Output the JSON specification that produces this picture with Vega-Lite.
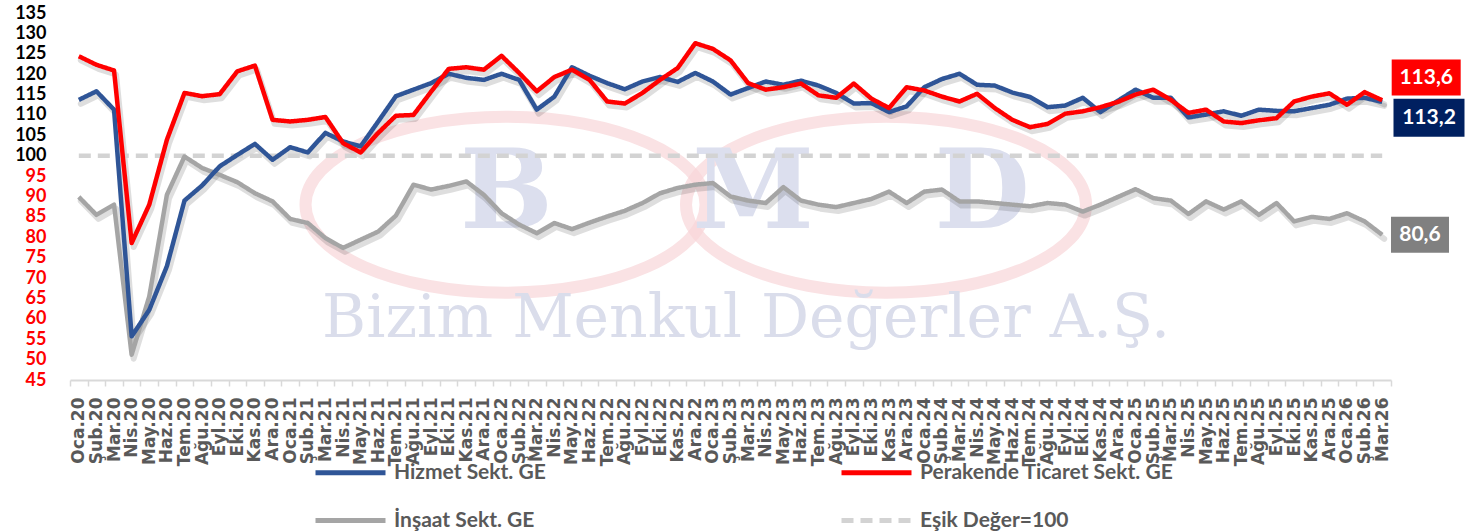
{
  "$schema": "https://vega.github.io/schema/vega-lite/v6.json",
  "width": 1321,
  "height": 367,
  "autosize": {"type": "pad"},
  "padding": {"left": 14, "top": 4, "right": 0, "bottom": 0},
  "background": "#FFFFFF",
  "config": {
    "view": {"stroke": null},
    "axisY": {"labelOverlap": false, "tickCount": 19},
    "locale": {"number": {"decimal": ",", "thousands": ".", "grouping": [3], "currency": ["", " TL"]}}
  },
  "data": {
    "values": [
      {"ay": "Oca.20", "h": 113.7, "p": 124.4, "i": 89.9, "e": 100},
      {"ay": "Şub.20", "h": 115.8, "p": 122.3, "i": 85.5, "e": 100},
      {"ay": "Mar.20", "h": 111.3, "p": 120.9, "i": 88.0, "e": 100},
      {"ay": "Nis.20", "h": 55.7, "p": 78.6, "i": 51.2, "e": 100},
      {"ay": "May.20", "h": 62.2, "p": 88.0, "i": 65.5, "e": 100},
      {"ay": "Haz.20", "h": 72.9, "p": 103.9, "i": 90.4, "e": 100},
      {"ay": "Tem.20", "h": 89.0, "p": 115.4, "i": 99.8, "e": 100},
      {"ay": "Ağu.20", "h": 92.7, "p": 114.6, "i": 97.0, "e": 100},
      {"ay": "Eyl.20", "h": 97.4, "p": 115.1, "i": 95.3, "e": 100},
      {"ay": "Eki.20", "h": 100.2, "p": 120.7, "i": 93.5, "e": 100},
      {"ay": "Kas.20", "h": 102.9, "p": 122.1, "i": 90.8, "e": 100},
      {"ay": "Ara.20", "h": 99.0, "p": 108.8, "i": 88.8, "e": 100},
      {"ay": "Oca.21", "h": 102.1, "p": 108.4, "i": 84.5, "e": 100},
      {"ay": "Şub.21", "h": 100.8, "p": 108.8, "i": 83.5, "e": 100},
      {"ay": "Mar.21", "h": 105.6, "p": 109.5, "i": 79.8, "e": 100},
      {"ay": "Nis.21", "h": 103.5, "p": 103.1, "i": 77.4, "e": 100},
      {"ay": "May.21", "h": 102.3, "p": 100.8, "i": 79.4, "e": 100},
      {"ay": "Haz.21", "h": 108.4, "p": 105.6, "i": 81.4, "e": 100},
      {"ay": "Tem.21", "h": 114.6, "p": 109.8, "i": 85.3, "e": 100},
      {"ay": "Ağu.21", "h": 116.2, "p": 110.0, "i": 92.9, "e": 100},
      {"ay": "Eyl.21", "h": 117.8, "p": 115.7, "i": 91.7, "e": 100},
      {"ay": "Eki.21", "h": 120.1, "p": 121.3, "i": 92.6, "e": 100},
      {"ay": "Kas.21", "h": 119.1, "p": 121.7, "i": 93.7, "e": 100},
      {"ay": "Ara.21", "h": 118.6, "p": 121.1, "i": 90.4, "e": 100},
      {"ay": "Oca.22", "h": 120.1, "p": 124.5, "i": 85.9, "e": 100},
      {"ay": "Şub.22", "h": 118.6, "p": 120.3, "i": 83.1, "e": 100},
      {"ay": "Mar.22", "h": 111.3, "p": 115.8, "i": 81.0, "e": 100},
      {"ay": "Nis.22", "h": 114.5, "p": 119.3, "i": 83.5, "e": 100},
      {"ay": "May.22", "h": 121.7, "p": 121.1, "i": 82.0, "e": 100},
      {"ay": "Haz.22", "h": 119.6, "p": 118.6, "i": 83.6, "e": 100},
      {"ay": "Tem.22", "h": 117.8, "p": 113.3, "i": 85.1, "e": 100},
      {"ay": "Ağu.22", "h": 116.3, "p": 112.8, "i": 86.5, "e": 100},
      {"ay": "Eyl.22", "h": 118.2, "p": 115.4, "i": 88.4, "e": 100},
      {"ay": "Eki.22", "h": 119.3, "p": 118.6, "i": 90.8, "e": 100},
      {"ay": "Kas.22", "h": 118.1, "p": 121.5, "i": 92.1, "e": 100},
      {"ay": "Ara.22", "h": 120.3, "p": 127.6, "i": 92.9, "e": 100},
      {"ay": "Oca.23", "h": 118.2, "p": 126.2, "i": 93.3, "e": 100},
      {"ay": "Şub.23", "h": 115.0, "p": 123.4, "i": 90.0, "e": 100},
      {"ay": "Mar.23", "h": 116.6, "p": 117.8, "i": 89.0, "e": 100},
      {"ay": "Nis.23", "h": 118.2, "p": 116.2, "i": 88.4, "e": 100},
      {"ay": "May.23", "h": 117.4, "p": 116.8, "i": 92.3, "e": 100},
      {"ay": "Haz.23", "h": 118.4, "p": 117.7, "i": 89.0, "e": 100},
      {"ay": "Tem.23", "h": 117.2, "p": 114.8, "i": 88.0, "e": 100},
      {"ay": "Ağu.23", "h": 115.4, "p": 114.2, "i": 87.4, "e": 100},
      {"ay": "Eyl.23", "h": 112.8, "p": 117.7, "i": 88.4, "e": 100},
      {"ay": "Eki.23", "h": 112.9, "p": 114.0, "i": 89.4, "e": 100},
      {"ay": "Kas.23", "h": 110.7, "p": 111.7, "i": 91.2, "e": 100},
      {"ay": "Ara.23", "h": 112.1, "p": 116.8, "i": 88.4, "e": 100},
      {"ay": "Oca.24", "h": 116.8, "p": 116.0, "i": 91.2, "e": 100},
      {"ay": "Şub.24", "h": 118.8, "p": 114.5, "i": 91.7, "e": 100},
      {"ay": "Mar.24", "h": 120.1, "p": 113.3, "i": 88.8, "e": 100},
      {"ay": "Nis.24", "h": 117.4, "p": 115.2, "i": 88.8, "e": 100},
      {"ay": "May.24", "h": 117.2, "p": 111.7, "i": 88.4, "e": 100},
      {"ay": "Haz.24", "h": 115.5, "p": 108.8, "i": 88.0, "e": 100},
      {"ay": "Tem.24", "h": 114.4, "p": 107.0, "i": 87.6, "e": 100},
      {"ay": "Ağu.24", "h": 111.9, "p": 107.8, "i": 88.4, "e": 100},
      {"ay": "Eyl.24", "h": 112.3, "p": 110.3, "i": 88.0, "e": 100},
      {"ay": "Eki.24", "h": 114.2, "p": 110.9, "i": 86.3, "e": 100},
      {"ay": "Kas.24", "h": 110.7, "p": 111.9, "i": 88.0, "e": 100},
      {"ay": "Ara.24", "h": 113.5, "p": 113.2, "i": 89.9, "e": 100},
      {"ay": "Oca.25", "h": 116.2, "p": 115.0, "i": 91.8, "e": 100},
      {"ay": "Şub.25", "h": 114.2, "p": 116.2, "i": 89.6, "e": 100},
      {"ay": "Mar.25", "h": 114.2, "p": 113.7, "i": 89.0, "e": 100},
      {"ay": "Nis.25", "h": 109.4, "p": 110.5, "i": 85.7, "e": 100},
      {"ay": "May.25", "h": 110.1, "p": 111.3, "i": 88.8, "e": 100},
      {"ay": "Haz.25", "h": 110.9, "p": 108.4, "i": 86.8, "e": 100},
      {"ay": "Tem.25", "h": 109.8, "p": 108.0, "i": 88.8, "e": 100},
      {"ay": "Ağu.25", "h": 111.3, "p": 108.7, "i": 85.5, "e": 100},
      {"ay": "Eyl.25", "h": 111.0, "p": 109.2, "i": 88.4, "e": 100},
      {"ay": "Eki.25", "h": 110.9, "p": 113.3, "i": 83.9, "e": 100},
      {"ay": "Kas.25", "h": 111.7, "p": 114.5, "i": 85.0, "e": 100},
      {"ay": "Ara.25", "h": 112.5, "p": 115.3, "i": 84.5, "e": 100},
      {"ay": "Oca.26", "h": 114.0, "p": 112.5, "i": 85.9, "e": 100},
      {"ay": "Şub.26", "h": 114.2, "p": 115.6, "i": 83.9, "e": 100},
      {"ay": "Mar.26", "h": 113.2, "p": 113.6, "i": 80.6, "e": 100}
    ]
  },
  "transform": [{"fold": ["e", "i", "h", "p"], "as": ["seri", "deger"]}],
  "layer": [
    {
      "data": {"values": [{}]},
      "mark": {"type": "point", "shape": "M-1,0A1,0.44,0,1,0,1,0A1,0.44,0,1,0,-1,0Z", "size": 160000, "filled": false, "stroke": "#F9D6D9", "strokeWidth": 12, "xOffset": 4},
      "encoding": {
        "x": {"datum": "Oca.22", "type": "nominal"},
        "y": {
          "datum": 88, "type": "quantitative",
          "scale": {"domain": [45, 135], "nice": false, "zero": false},
          "axis": {"title": null, "values": [45,50,55,60,65,70,75,80,85,90,95,100,105,110,115,120,125,130,135], "tickCount": 19, "labelOverlap": false, "labelFont": "Lato", "labelFontSize": 18, "labelFontWeight": "bold", "labelColor": {"condition": {"test": "datum.value < 100", "value": "#FF0000"}, "value": "#000000"}, "domain": false, "ticks": false, "grid": false, "labelPadding": 24}
        }
      }
    },
    {
      "data": {"values": [{}]},
      "mark": {"type": "point", "shape": "M-1,0A1,0.44,0,1,0,1,0A1,0.44,0,1,0,-1,0Z", "size": 160000, "filled": false, "stroke": "#F9D6D9", "strokeWidth": 12, "xOffset": -3},
      "encoding": {"x": {"datum": "Kas.23", "type": "nominal"}, "y": {"datum": 88, "type": "quantitative"}}
    },
    {
      "data": {"values": [{"harf": "B", "ay": "Oca.22"}, {"harf": "M", "ay": "Mar.23"}, {"harf": "D", "ay": "Nis.24"}]},
      "mark": {"type": "text", "font": "DejaVu Serif", "fontWeight": "bold", "fontSize": 110, "color": "#DCDFEE", "align": "center", "baseline": "alphabetic", "xOffset": 5},
      "encoding": {"x": {"field": "ay", "type": "nominal"}, "y": {"datum": 82.3, "type": "quantitative"}, "text": {"field": "harf"}}
    },
    {
      "data": {"values": [{}]},
      "mark": {"type": "text", "text": "Bizim Menkul Değerler A.Ş.", "font": "DejaVu Serif", "fontSize": 60, "color": "#DADDEB", "align": "center", "baseline": "alphabetic", "xOffset": -2},
      "encoding": {"x": {"datum": "Mar.23", "type": "nominal"}, "y": {"datum": 55.6, "type": "quantitative"}}
    },
    {
      "transform": [{"filter": "datum.seri !== 'e'"}],
      "mark": {"type": "line", "color": "#000000", "opacity": 0.13, "strokeWidth": 6, "xOffset": 2, "yOffset": 4, "strokeJoin": "round", "strokeCap": "round"},
      "encoding": {
        "x": {"field": "ay", "type": "nominal"},
        "y": {"field": "deger", "type": "quantitative"},
        "detail": {"field": "seri"}
      }
    },
    {
      "mark": {"type": "line", "strokeWidth": 4.5, "strokeJoin": "round"},
      "encoding": {
        "x": {
          "field": "ay", "type": "nominal", "bandPosition": 0.5,
          "scale": {"type": "band", "paddingInner": 0, "paddingOuter": 0, "domain": ["Oca.20","Şub.20","Mar.20","Nis.20","May.20","Haz.20","Tem.20","Ağu.20","Eyl.20","Eki.20","Kas.20","Ara.20","Oca.21","Şub.21","Mar.21","Nis.21","May.21","Haz.21","Tem.21","Ağu.21","Eyl.21","Eki.21","Kas.21","Ara.21","Oca.22","Şub.22","Mar.22","Nis.22","May.22","Haz.22","Tem.22","Ağu.22","Eyl.22","Eki.22","Kas.22","Ara.22","Oca.23","Şub.23","Mar.23","Nis.23","May.23","Haz.23","Tem.23","Ağu.23","Eyl.23","Eki.23","Kas.23","Ara.23","Oca.24","Şub.24","Mar.24","Nis.24","May.24","Haz.24","Tem.24","Ağu.24","Eyl.24","Eki.24","Kas.24","Ara.24","Oca.25","Şub.25","Mar.25","Nis.25","May.25","Haz.25","Tem.25","Ağu.25","Eyl.25","Eki.25","Kas.25","Ara.25","Oca.26","Şub.26","Mar.26"]},
          "axis": {"title": null, "labelAngle": -90, "labelFont": "DejaVu Sans", "labelFontWeight": "bold", "labelFontSize": 17, "labelColor": "#595959", "domainColor": "#D9D9D9", "domainWidth": 2, "tickColor": "#D9D9D9", "tickWidth": 1.5, "tickSize": 6, "tickBand": "extent", "labelPadding": 11, "grid": false, "labelOverlap": false}
        },
        "y": {
          "field": "deger", "type": "quantitative",
          "scale": {"domain": [45, 135], "nice": false, "zero": false},
          "axis": {"title": null, "values": [45,50,55,60,65,70,75,80,85,90,95,100,105,110,115,120,125,130,135], "tickCount": 19, "labelOverlap": false, "labelFont": "Lato", "labelFontSize": 18, "labelFontWeight": "bold", "labelColor": {"condition": {"test": "datum.value < 100", "value": "#FF0000"}, "value": "#000000"}, "domain": false, "ticks": false, "grid": false, "labelPadding": 24}
        },
        "color": {
          "field": "seri", "type": "nominal",
          "scale": {"domain": ["h", "p", "i", "e"], "range": ["#2F5597", "#FF0000", "#A5A5A5", "#D3D3D3"]},
          "legend": {"title": null, "orient": "none", "direction": "horizontal", "legendX": 243, "legendY": 422, "columns": 2, "columnPadding": 285, "rowPadding": 0, "padding": 0, "symbolType": "stroke", "symbolSize": 4900, "symbolStrokeWidth": 5, "labelOffset": 6, "labelFont": "Lato", "labelFontSize": 21, "labelFontWeight": "bold", "labelColor": "#595959", "labelLimit": 400, "labelExpr": "{'h':'Hizmet Sekt. GE','p':'Perakende Ticaret Sekt. GE','i':'İnşaat Sekt. GE','e':'Eşik Değer=100'}[datum.label]"}
        },
        "strokeDash": {
          "field": "seri", "type": "nominal",
          "scale": {"domain": ["h", "p", "i", "e"], "range": [[1, 0], [1, 0], [1, 0], [12, 7]]},
          "legend": {"title": null, "orient": "none", "direction": "horizontal", "legendX": 243, "legendY": 422, "columns": 2, "columnPadding": 285, "rowPadding": 0, "padding": 0, "symbolType": "stroke", "symbolSize": 4900, "symbolStrokeWidth": 5, "labelOffset": 6, "labelFont": "Lato", "labelFontSize": 21, "labelFontWeight": "bold", "labelColor": "#595959", "labelLimit": 400, "labelExpr": "{'h':'Hizmet Sekt. GE','p':'Perakende Ticaret Sekt. GE','i':'İnşaat Sekt. GE','e':'Eşik Değer=100'}[datum.label]"}
        }
      }
    },
    {
      "transform": [{"filter": "datum.ay === 'Mar.26' && datum.seri === 'p'"}],
      "mark": {"type": "point", "shape": "M-1,-0.52L1,-0.52L1,0.52L-1,0.52Z", "size": 4761, "filled": true, "color": "#FF0000", "opacity": 1, "xOffset": 44, "yOffset": -22.7},
      "encoding": {"x": {"field": "ay", "type": "nominal"}, "y": {"field": "deger", "type": "quantitative"}}
    },
    {
      "transform": [{"filter": "datum.ay === 'Mar.26' && datum.seri === 'p'"}],
      "mark": {"type": "text", "font": "Lato", "fontWeight": "bold", "fontSize": 21, "color": "#FFFFFF", "align": "center", "baseline": "middle", "xOffset": 44, "yOffset": -22.7},
      "encoding": {"x": {"field": "ay", "type": "nominal"}, "y": {"field": "deger", "type": "quantitative"}, "text": {"field": "deger", "type": "quantitative", "format": ".1f"}}
    },
    {
      "transform": [{"filter": "datum.ay === 'Mar.26' && datum.seri === 'h'"}],
      "mark": {"type": "point", "shape": "M-1,-0.535L1,-0.535L1,0.535L-1,0.535Z", "size": 5041, "filled": true, "color": "#002060", "opacity": 1, "xOffset": 46.8, "yOffset": 15.8},
      "encoding": {"x": {"field": "ay", "type": "nominal"}, "y": {"field": "deger", "type": "quantitative"}}
    },
    {
      "transform": [{"filter": "datum.ay === 'Mar.26' && datum.seri === 'h'"}],
      "mark": {"type": "text", "font": "Lato", "fontWeight": "bold", "fontSize": 21, "color": "#FFFFFF", "align": "center", "baseline": "middle", "xOffset": 46.8, "yOffset": 15.8},
      "encoding": {"x": {"field": "ay", "type": "nominal"}, "y": {"field": "deger", "type": "quantitative"}, "text": {"field": "deger", "type": "quantitative", "format": ".1f"}}
    },
    {
      "transform": [{"filter": "datum.ay === 'Mar.26' && datum.seri === 'i'"}],
      "mark": {"type": "point", "shape": "M-1,-0.62L1,-0.62L1,0.62L-1,0.62Z", "size": 3364, "filled": true, "color": "#808080", "opacity": 1, "xOffset": 37.8, "yOffset": 0},
      "encoding": {"x": {"field": "ay", "type": "nominal"}, "y": {"field": "deger", "type": "quantitative"}}
    },
    {
      "transform": [{"filter": "datum.ay === 'Mar.26' && datum.seri === 'i'"}],
      "mark": {"type": "text", "font": "Lato", "fontWeight": "bold", "fontSize": 21, "color": "#FFFFFF", "align": "center", "baseline": "middle", "xOffset": 37.8, "yOffset": 0},
      "encoding": {"x": {"field": "ay", "type": "nominal"}, "y": {"field": "deger", "type": "quantitative"}, "text": {"field": "deger", "type": "quantitative", "format": ".1f"}}
    }
  ]
}
